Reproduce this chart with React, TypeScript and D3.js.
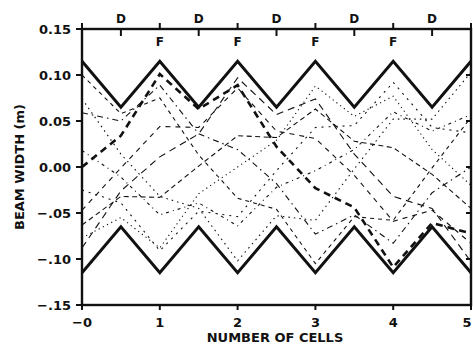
import React from "react";
import * as d3 from "d3";

// lens positions along the lattice (F at integers, D at half cells)
const cellPos = [0, 0.5, 1, 1.5, 2, 2.5, 3, 3.5, 4, 4.5, 5];
const upperEnvelope = [0.115, 0.065, 0.115, 0.065, 0.115, 0.065, 0.115, 0.065, 0.115, 0.065, 0.115];
const lowerEnvelope = [-0.115, -0.065, -0.115, -0.065, -0.115, -0.065, -0.115, -0.065, -0.115, -0.065, -0.115];

const thickRay = [0, 0.034, 0.101, 0.063, 0.089, 0.022, -0.023, -0.044, -0.109, -0.061, -0.072];

const rayA = [0.1, 0.058, 0.075, 0.013, -0.034, -0.046, -0.105, -0.054, -0.058, -0.001, 0.054];
const rayB = [0.074, 0.014, -0.032, -0.045, -0.102, -0.053, -0.058, -0.002, 0.052, 0.052, 0.103];
const rayC = [0.059, 0.05, 0.089, 0.036, 0.019, -0.018, -0.073, -0.052, -0.083, -0.028, 0];
const rayD = [-0.025, -0.039, -0.091, -0.048, -0.054, -0.004, 0.043, 0.045, 0.092, 0.043, 0.037];
const rayE = [-0.047, -0.001, 0.044, 0.043, 0.086, 0.039, 0.031, -0.009, -0.059, -0.047, -0.083];
const rayF = [-0.077, -0.055, -0.088, -0.029, 0, 0.029, 0.088, 0.055, 0.077, 0.019, -0.02];
const rayG = [-0.088, -0.026, 0.011, 0.036, 0.097, 0.057, 0.074, 0.014, -0.032, -0.045, -0.103];
const rayH = [0.018, -0.011, -0.052, -0.039, -0.064, -0.022, -0.004, 0.019, 0.06, 0.039, 0.057];
const rayI = [-0.063, -0.032, -0.033, 0.001, 0.034, 0.032, 0.063, 0.028, 0.021, -0.008, -0.045];
const rays = [rayA, rayB, rayC, rayD, rayE, rayF, rayG, rayH, rayI];

const yTicks = [0.15, 0.1, 0.05, 0, -0.05, -0.1, -0.15];
const yTickLabels = ["0.15", "0.10", "0.05", "0.00", "\u2212.05", "\u2212.10", "\u2212.15"];
const xTicks = [0, 1, 2, 3, 4, 5];
const xTickLabels = ["\u22120", "1", "2", "3", "4", "5"];
const focusPos = [1, 2, 3, 4];
const defocusPos = [0.5, 1.5, 2.5, 3.5, 4.5];

const dashes = ["4,4", "1.5,4", "6,4,1.5,4", "2,5", "5,5", "1.2,3.5", "7,5", "3,4,1,4", "5,3.5"];

export default function App() {
  const width = 473;
  const height = 346;
  const left = 82, right = 471, top = 29, bottom = 305;

  const x = d3.scaleLinear().domain([0, 5]).range([left, right]);
  const y = d3.scaleLinear().domain([-0.15, 0.15]).range([bottom, top]);

  const line = d3
    .line<number>()
    .x((_, i) => x(cellPos[i]))
    .y((d) => y(d));

  const font = "'DejaVu Sans', 'Liberation Sans', sans-serif";

  return (
    <svg
      width={width}
      height={height}
      style={{ position: "absolute", left: 0, top: 0, background: "#fff" }}
    >
      <g fill="none" stroke="#111" strokeLinecap="butt">
        {rays.map((r, i) => (
          <path key={i} d={line(r) || ""} strokeWidth={1.1} strokeDasharray={dashes[i]} />
        ))}
        <path d={line(thickRay) || ""} strokeWidth={2.6} strokeDasharray="7,5" />
        <path d={line(upperEnvelope) || ""} strokeWidth={3} strokeLinejoin="miter" />
        <path d={line(lowerEnvelope) || ""} strokeWidth={3} strokeLinejoin="miter" />
      </g>

      {/* frame */}
      <rect x={left} y={top} width={right - left} height={bottom - top} fill="none" stroke="#111" strokeWidth={2.4} />

      <g stroke="#111" strokeWidth={2}>
        {yTicks.map((t) => (
          <line key={"l" + t} x1={left - 6} x2={left} y1={y(t)} y2={y(t)} />
        ))}
        {yTicks.map((t) => (
          <line key={"r" + t} x1={right - 5} x2={right} y1={y(t)} y2={y(t)} />
        ))}
        {xTicks.map((t) => (
          <line key={"b" + t} x1={x(t)} x2={x(t)} y1={bottom} y2={bottom + 5} />
        ))}
        {xTicks.map((t) => (
          <line key={"t" + t} x1={x(t)} x2={x(t)} y1={top - 6} y2={top} />
        ))}
        {defocusPos.map((t) => (
          <line key={"d" + t} x1={x(t)} x2={x(t)} y1={top} y2={top + 7} />
        ))}
      </g>

      <g fontFamily={font} fontWeight="bold" fill="#111">
        {yTicks.map((t, i) => (
          <text key={t} x={left - 11} y={y(t)} dy="0.36em" textAnchor="end" fontSize={13}>
            {yTickLabels[i]}
          </text>
        ))}
        {xTicks.map((t, i) => (
          <text
            key={t}
            x={Math.min(x(t), width - 6)}
            y={bottom + 17}
            dy="0.36em"
            textAnchor="middle"
            fontSize={13}
          >
            {xTickLabels[i]}
          </text>
        ))}
        {defocusPos.map((t) => (
          <text key={"D" + t} x={x(t)} y={19} dy="0.36em" textAnchor="middle" fontSize={12}>
            D
          </text>
        ))}
        {focusPos.map((t) => (
          <text key={"F" + t} x={x(t)} y={42} dy="0.36em" textAnchor="middle" fontSize={12}>
            F
          </text>
        ))}
        <text x={275} y={337} dy="0.36em" textAnchor="middle" fontSize={13}>
          NUMBER OF CELLS
        </text>
        <text
          transform={`translate(19,${(top + bottom) / 2}) rotate(-90)`}
          dy="0.36em"
          textAnchor="middle"
          fontSize={13}
        >
          BEAM WIDTH (m)
        </text>
      </g>
    </svg>
  );
}
